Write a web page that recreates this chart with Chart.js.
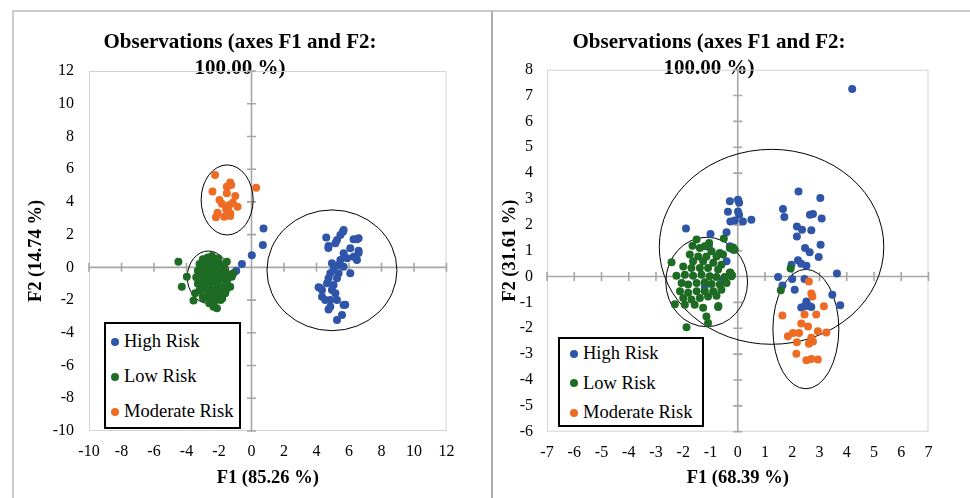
<!DOCTYPE html>
<html>
<head>
<meta charset="utf-8">
<script src="https://cdn.jsdelivr.net/npm/chart.js@4.4.1/dist/chart.umd.min.js"></script>
<style>
  body { margin: 0; background: #fff; width: 970px; height: 498px; overflow: hidden; position: relative; font-family: "Liberation Serif", "Times New Roman", serif; }
  .panel { position: absolute; top: 10px; height: 500px; border-top: 2px solid #cbcbcb; }
  #panelA { left: 12px; width: 477px; border-left: 2px solid #cbcbcb; border-right: 2px solid #adadad; }
  #panelB { left: 491px; width: 490px; border-left: 2px solid #adadad; }
  canvas { position: absolute; top: 11px; }
  #chartA { left: 13px; }
  #chartB { left: 473px; }
  .legend { position: absolute; box-sizing: border-box; border: 2px solid #000; background: #fff; }
  .legend div { display: flex; align-items: center; font-size: 18.5px; color: #000; white-space: nowrap; }
  .legend span { display: inline-block; width: 8px; height: 8px; border-radius: 50%; margin-right: 5px; }
</style>
</head>
<body>
<div class="panel" id="panelA"></div>
<div class="panel" id="panelB"></div>
<canvas id="chartA" width="454" height="487"></canvas>
<canvas id="chartB" width="472" height="487"></canvas>
<div class="legend" id="legendA" style="left:104px; top:322px; width:137px; height:107px;"></div>
<div class="legend" id="legendB" style="left:558px; top:337px; width:146px; height:90px;"></div>
<script>
const seriesNames = ["High Risk", "Low Risk", "Moderate Risk"];
const seriesColors = ["#2F55A8", "#1E6B24", "#EE6B24"];
const chartTitle = ["Observations (axes F1 and F2:", "100.00 %)"];

// left chart: F1 (85.26 %) / F2 (14.74 %)
const highA = [
  [0.74, 2.37], [0.7, 1.37], [0.02, 0.74], [-0.59, 0.21], [-0.94, -0.2],
  [5.63, 2.18], [5.47, 1.98], [4.6, 1.82], [5.26, 1.67], [5.16, 1.47], [4.74, 1.31], [6.28, 1.72],
  [6.49, 1.72], [5.67, 2.28], [6.59, 1.78], [6.08, 1.17], [6.59, 1.02], [5.67, 0.86], [6.28, 0.65],
  [6.49, 0.45], [6.59, 0.88], [5.47, 0.45], [5.88, 0.56], [5.36, 0.15], [5.67, 0.04], [4.95, 0.25],
  [6.08, -0.36], [5.05, -0.16], [4.85, -0.36], [5.36, -0.36], [4.74, -0.67], [5.26, -0.67], [4.65, -0.97],
  [5.05, -1.08], [4.13, -1.22], [4.34, -1.38], [4.95, -1.38], [5.16, -1.58], [4.34, -1.79], [4.54, -1.99],
  [4.85, -1.99], [5.26, -1.99], [4.85, -2.4], [5.67, -2.3], [5.57, -2.91], [5.26, -3.22], [4.73, 1.18],
  [4.23, -1.26], [4.74, -2.58], [5.77, -2.28]
];
const lowA = [
  [-4.5, 0.35], [-4.29, -1.18], [-3.98, -0.57], [-3.57, -2.03], [-3.47, -1.58], [-2.96, -1.89], [-2.34, -2.4],
  [-2.13, -2.5], [-1.52, 0.35], [-1.21, -0.57], [-1.31, -1.18], [-1.62, -1.58], [-1.11, -0.36], [-2.44, 0.7],
  [-3.2, 0.2], [-3.0, 0.5], [-2.7, 0.6], [-2.3, 0.5], [-2.0, 0.3], [-1.7, 0.1], [-3.3, -0.2], [-3.0, -0.1],
  [-2.8, 0.1], [-2.5, 0.2], [-2.2, 0.0], [-1.9, -0.1], [-1.6, -0.3], [-3.4, -0.6], [-3.1, -0.5], [-2.9, -0.4],
  [-2.6, -0.3], [-2.3, -0.4], [-2.0, -0.5], [-1.8, -0.7], [-1.5, -0.8], [-3.3, -1.0], [-3.0, -0.9], [-2.7, -0.8],
  [-2.4, -0.9], [-2.1, -1.0], [-1.9, -1.2], [-1.6, -1.1], [-3.2, -1.4], [-2.9, -1.3], [-2.6, -1.2], [-2.3, -1.4],
  [-2.0, -1.5], [-1.7, -1.6], [-3.0, -1.8], [-2.7, -1.7], [-2.5, -1.9], [-2.2, -1.8], [-1.9, -2.0], [-2.6, -2.2],
  [-2.3, -2.1], [-1.8, -1.9], [-2.8, -0.6], [-2.45, -0.65], [-2.15, -0.75], [-2.85, -1.05], [-2.55, -1.5],
  [-2.1, -1.25], [-3.1, -0.3], [-2.4, -0.15], [-2.75, 0.35], [-2.05, 0.55], [-1.55, -1.35], [-1.45, -0.45]
];
const moderateA = [
  [-2.24, 5.65], [-1.31, 5.18], [-1.25, 5.04], [-1.52, 4.93], [0.29, 4.87], [-2.4, 4.63], [-1.52, 4.53],
  [-1.0, 4.36], [-1.97, 4.12], [-1.82, 3.88], [-1.36, 3.81], [-0.86, 3.71], [-1.56, 3.55], [-2.09, 3.34],
  [-1.31, 3.31], [-2.19, 3.06], [-1.68, 3.1], [-1.31, 3.14], [-1.45, 3.6], [-1.15, 3.95]
];
// ellipses: centre x, centre y, radius x, radius y
const ellipsesA = [[-1.5, 4.12, 1.6, 2.14], [-2.65, -0.6, 1.3, 1.6], [4.95, -0.18, 4.0, 3.69]];

// right chart: F1 (68.39 %) / F2 (31.61 %)
const highB = [
  [4.2, 7.25], [2.23, 3.29], [3.03, 3.04], [1.66, 2.61], [1.71, 2.3], [2.65, 2.39], [2.76, 2.42], [3.08, 2.25],
  [2.17, 1.94], [2.36, 1.81], [2.7, 1.79], [2.17, 1.55], [3.04, 1.23], [2.47, 1.1], [2.64, 0.94], [2.97, 0.76],
  [2.21, 0.63], [1.97, 0.46], [2.33, 0.5], [2.52, 0.42], [3.64, 0.12], [1.48, -0.02], [2.0, -0.09], [2.45, -0.09],
  [1.64, -0.35], [2.09, -0.51], [3.47, -0.7], [3.76, -1.11], [2.52, -0.96], [2.45, -1.15], [2.64, -1.15],
  [2.33, -1.2], [2.7, -1.18], [-0.29, 2.91], [0.01, 2.97], [0.05, 2.85], [-0.36, 2.51], [0.01, 2.52], [0.05, 2.39],
  [-0.27, 2.13], [-0.11, 2.17], [0.19, 2.13], [0.5, 2.2], [-1.9, 1.86], [-1.0, 1.65], [-0.41, 1.71], [-0.29, 1.17],
  [-0.17, 1.04], [-1.06, 1.14], [-0.41, 0.59], [-0.54, -0.12], [-1.21, -0.38]
];
const lowB = [
  [-1.51, 1.43], [-1.05, 1.3], [-0.51, 1.47], [-1.66, 1.19], [-1.39, 1.1], [-1.21, 1.17], [-0.96, 0.98],
  [-0.66, 0.91], [-0.29, 1.1], [-0.11, 1.04], [-1.76, 0.85], [-1.45, 0.78], [-1.15, 0.78], [-0.78, 0.78],
  [-0.54, 0.85], [-2.43, 0.55], [-1.64, 0.59], [-1.27, 0.59], [-0.9, 0.53], [-0.6, 0.46], [-2.0, 0.39],
  [-1.7, 0.33], [-1.39, 0.33], [-1.09, 0.33], [-0.72, 0.27], [-0.29, 0.16], [-2.25, 0.03], [-1.94, 0.07],
  [-1.64, 0.03], [-1.33, 0.07], [-1.03, 0.01], [-0.78, -0.02], [-0.48, -0.02], [-0.23, 0.01], [-2.06, -0.25],
  [-1.82, -0.31], [-1.51, -0.25], [-1.21, -0.22], [-0.96, -0.29], [-0.66, -0.31], [-0.41, -0.25], [-2.12, -0.57],
  [-1.82, -0.63], [-1.51, -0.57], [-1.21, -0.57], [-0.9, -0.57], [-0.6, -0.51], [-2.0, -0.83], [-1.7, -0.89],
  [-1.39, -0.83], [-1.09, -0.77], [-0.78, -0.74], [-1.94, -1.09], [-1.58, -1.09], [-1.27, -1.21], [-0.72, -1.18],
  [-1.15, -1.54], [-1.09, -1.8], [-1.88, -1.96], [-2.31, -1.07], [-0.71, -1.14], [-0.27, 0.15], [-0.21, 0.05],
  [-0.17, 1.12], [1.94, 0.31], [1.58, -0.53]
];
const moderateB = [
  [2.61, -0.19], [2.7, -0.66], [2.74, -0.77], [3.16, -1.15], [1.64, -1.51], [2.45, -1.47], [2.88, -1.47],
  [2.33, -1.82], [2.58, -1.93], [1.84, -2.31], [2.03, -2.18], [2.25, -2.18], [2.94, -2.12], [3.25, -2.16],
  [2.7, -2.37], [2.76, -2.51], [2.61, -2.6], [2.17, -2.54], [2.15, -2.99], [2.52, -3.24], [2.7, -3.19], [2.94, -3.21]
];
const ellipsesB = [[1.24, 1.15, 4.12, 3.77], [-1.14, -0.21, 1.5, 1.73], [2.5, -2.03, 1.21, 2.31]];

Chart.defaults.font.family = "'Liberation Serif', 'Times New Roman', serif";
Chart.defaults.color = "#000";

// box, zero axes with cross ticks, and the confidence ellipses
const frame = {
  id: "frame",
  beforeDatasetsDraw(chart, args, opts) {
    const { ctx, chartArea: a, scales: { x, y } } = chart;
    const x0 = x.getPixelForValue(0), y0 = y.getPixelForValue(0);
    ctx.save();
    ctx.strokeStyle = "#d3d3d3";
    ctx.lineWidth = 1;
    ctx.strokeRect(a.left + 0.5, a.top + 0.5, a.width - 1, a.height - 1);
    ctx.strokeStyle = "#a6a6a6";
    ctx.lineWidth = 1.6;
    ctx.beginPath();
    ctx.moveTo(a.left, y0); ctx.lineTo(a.right, y0);
    ctx.moveTo(x0, a.top); ctx.lineTo(x0, a.bottom);
    x.ticks.forEach(t => { const p = x.getPixelForValue(t.value); ctx.moveTo(p, y0 - 4.5); ctx.lineTo(p, y0 + 4.5); });
    y.ticks.forEach(t => { const p = y.getPixelForValue(t.value); ctx.moveTo(x0 - 4.5, p); ctx.lineTo(x0 + 4.5, p); });
    ctx.stroke();
    ctx.strokeStyle = "#000";
    ctx.lineWidth = 1;
    for (const [cx, cy, rx, ry] of opts.list) {
      const px = x.getPixelForValue(cx), py = y.getPixelForValue(cy);
      const w = Math.abs(x.getPixelForValue(cx + rx) - px);
      const h = Math.abs(y.getPixelForValue(cy + ry) - py);
      ctx.beginPath();
      ctx.ellipse(px, py, w, h, 0, 0, Math.PI * 2);
      ctx.stroke();
    }
    ctx.restore();
  }
};

function makeChart(id, sets, xMin, xMax, yMin, yMax, step, xTitle, yTitle, ellipses, lay) {
  const datasets = sets.map((pts, i) => ({
    label: seriesNames[i],
    data: pts.map(p => ({ x: p[0], y: p[1] })),
    backgroundColor: seriesColors[i],
    borderWidth: 0,
    pointRadius: 4,
    order: 3 - i
  }));
  return new Chart(document.getElementById(id), {
    type: "scatter",
    data: { datasets: datasets },
    plugins: [frame],
    options: {
      responsive: false,
      animation: false,
      // equal side padding keeps the title centred on the canvas
      layout: { padding: { left: lay.pad, right: lay.pad, top: 0, bottom: 0 } },
      plugins: {
        legend: { display: false },
        tooltip: { enabled: false },
        title: {
          display: true,
          text: chartTitle,
          font: { size: 21, weight: "bold", lineHeight: 1.2 },
          padding: { top: 19.4, bottom: lay.titleBottom }
        },
        frame: { list: ellipses }
      },
      scales: {
        x: {
          type: "linear", min: xMin, max: xMax,
          ticks: { stepSize: step, font: { size: 16 }, padding: 11.5, maxRotation: 0, autoSkip: false },
          grid: { display: false, drawTicks: false },
          border: { display: false },
          title: { display: true, text: xTitle, font: { size: 18.5, weight: "bold", lineHeight: 1.2 }, padding: { top: 0, bottom: 8.9 } },
          afterFit: s => { s.height = lay.xHeight; }
        },
        y: {
          type: "linear", min: yMin, max: yMax,
          ticks: { stepSize: step, font: { size: 16 }, padding: lay.tickPad, autoSkip: false },
          grid: { display: false, drawTicks: false },
          border: { display: false },
          title: { display: true, text: yTitle, font: { size: 18.5, weight: "bold", lineHeight: 1.2 }, padding: { top: lay.yTitlePad, bottom: 0 } },
          afterFit: s => { s.width = lay.yWidth; }
        }
      }
    }
  });
}

function makeLegend(id, rowHeight, markLeft, gap) {
  const box = document.getElementById(id);
  seriesNames.forEach((name, i) => {
    const row = document.createElement("div");
    row.style.height = rowHeight + "px";
    row.style.paddingLeft = markLeft + "px";
    const dot = document.createElement("span");
    dot.style.background = seriesColors[i];
    dot.style.marginRight = gap + "px";
    row.appendChild(dot);
    row.appendChild(document.createTextNode(name));
    box.appendChild(row);
  });
}

makeChart("chartA", [highA, lowA, moderateA], -10, 12, -10, 12, 2, "F1 (85.26 %)", "F2 (14.74 %)", ellipsesA,
  { pad: 20.5, titleBottom: -9.8, xHeight: 67, yWidth: 55.5, tickPad: 15, yTitlePad: -7.9 });
makeChart("chartB", [highB, lowB, moderateB], -7, 7, -6, 8, 1, "F1 (68.39 %)", "F2 (31.61 %)", ellipsesB,
  { pad: 16.5, titleBottom: -11.1, xHeight: 66.3, yWidth: 57.5, tickPad: 14, yTitlePad: 9.4 });
makeLegend("legendA", 35, 5, 5);
makeLegend("legendB", 29.5, 10, 5);
</script>
</body>
</html>
